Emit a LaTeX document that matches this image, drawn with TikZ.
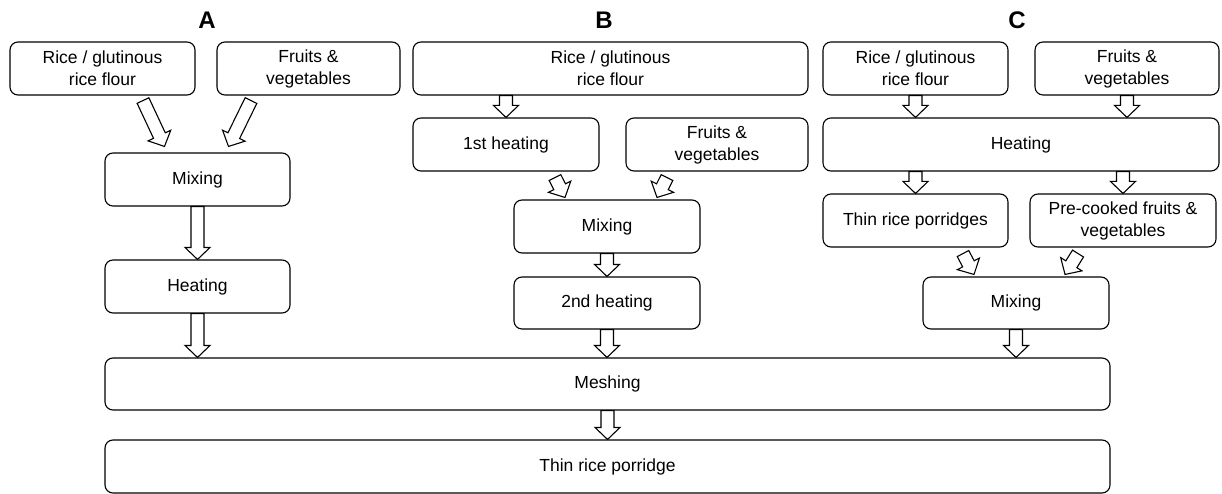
\documentclass[tikz,border=0pt]{standalone}
\usepackage{fontspec}
\setmainfont{Liberation Sans}
\usetikzlibrary{calc}
\newcommand\fsbox{\fontsize{17.5}{22}\selectfont}
\newcommand\fslab{\fontsize{24}{28}\selectfont\bfseries}
\newcommand\sw{6.5pt}
\newcommand\hw{12.5pt}
\newcommand\hl{12pt}
\newcommand\blockarr[2]{%
  \coordinate (ba) at (#1);
  \coordinate (bb) at (#2);
  \coordinate (bc) at ($(bb)!\hl!(ba)$);
  \draw[blk] ($(ba)!\sw!90:(bb)$) -- ($(bc)!\sw!90:(bb)$) -- ($(bc)!\hw!90:(bb)$) -- (bb)
    -- ($(bc)!\hw!-90:(bb)$) -- ($(bc)!\sw!-90:(bb)$) -- ($(ba)!\sw!-90:(bb)$) -- cycle;
}
\tikzset{
  box/.style={draw, line width=1.1pt, rounded corners=8pt, align=center, font=\fsbox,
    inner sep=0pt, minimum height=53pt},
  blk/.style={draw, fill=white, line width=1.1pt, line join=miter},
  lab/.style={font=\fslab}
}
\begin{document}
\begin{tikzpicture}[x=1pt, y=-1pt]
\useasboundingbox (0,0) rectangle (1222,494);
% labels
\node[lab] (labA) at (207,20) {A};
\node[lab] (labB) at (604,20) {B};
\node[lab] (labC) at (1017,20) {C};
% column A
\node[box, minimum width=185pt] (riceA) at (102.5,68.5) {Rice / glutinous\\rice flour};
\node[box, minimum width=183pt] (fruitA) at (308.5,68.5) {Fruits \&\\vegetables};
\node[box, minimum width=185pt] (mixA) at (197.5,179.5) {Mixing};
\node[box, minimum width=185pt] (heatA) at (197.5,286.5) {Heating};
% column B
\node[box, minimum width=395pt] (riceB) at (610.5,68.5) {Rice / glutinous\\rice flour};
\node[box, minimum width=186pt] (h1B) at (506,144.5) {1st heating};
\node[box, minimum width=182pt] (fruitB) at (717,144.5) {Fruits \&\\vegetables};
\node[box, minimum width=186pt] (mixB) at (607,226.5) {Mixing};
\node[box, minimum width=186pt, minimum height=52pt] (h2B) at (607,303) {2nd heating};
% column C
\node[box, minimum width=185pt] (riceC) at (915.5,68.5) {Rice / glutinous\\rice flour};
\node[box, minimum width=184pt] (fruitC) at (1127,68.5) {Fruits \&\\vegetables};
\node[box, minimum width=396pt] (heatC) at (1021,144.5) {Heating};
\node[box, minimum width=185pt] (thinC) at (915.5,220.5) {Thin rice porridges};
\node[box, minimum width=186pt] (preC) at (1123,220.5) {Pre-cooked fruits \&\\vegetables};
\node[box, minimum width=186pt, minimum height=52pt] (mixC) at (1016,303) {Mixing};
% bottom
\node[box, minimum width=1005pt, minimum height=52pt] (mesh) at (607.5,384) {Meshing};
\node[box, minimum width=1005pt] (porr) at (607.5,466.5) {Thin rice porridge};
% arrows A
\blockarr{$(riceA.south)+(40.5,5)$}{$(mixA.north)+(-33,-6)$}
\blockarr{$(fruitA.south)+(-57.5,5)$}{$(mixA.north)+(31,-6)$}
\blockarr{mixA.south}{heatA.north}
\blockarr{heatA.south}{heatA.south |- mesh.north}
% arrows B
\blockarr{riceB.south -| h1B.north}{h1B.north}
\blockarr{$(h1B.south)+(49,6)$}{$(mixB.north)+(-42,-2)$}
\blockarr{$(fruitB.south)+(-50,6)$}{$(mixB.north)+(50,-2)$}
\blockarr{mixB.south}{h2B.north}
\blockarr{h2B.south}{h2B.south |- mesh.north}
% arrows C
\blockarr{riceC.south}{riceC.south |- heatC.north}
\blockarr{fruitC.south}{fruitC.south |- heatC.north}
\blockarr{thinC.north |- heatC.south}{thinC.north}
\blockarr{preC.north |- heatC.south}{preC.north}
\blockarr{$(thinC.south)+(47.5,6)$}{$(mixC.north)+(-42,-2)$}
\blockarr{$(preC.south)+(-45,6)$}{$(mixC.north)+(49,-2)$}
\blockarr{mixC.south}{mixC.south |- mesh.north}
% final
\blockarr{mesh.south}{porr.north}
\end{tikzpicture}
\end{document}
